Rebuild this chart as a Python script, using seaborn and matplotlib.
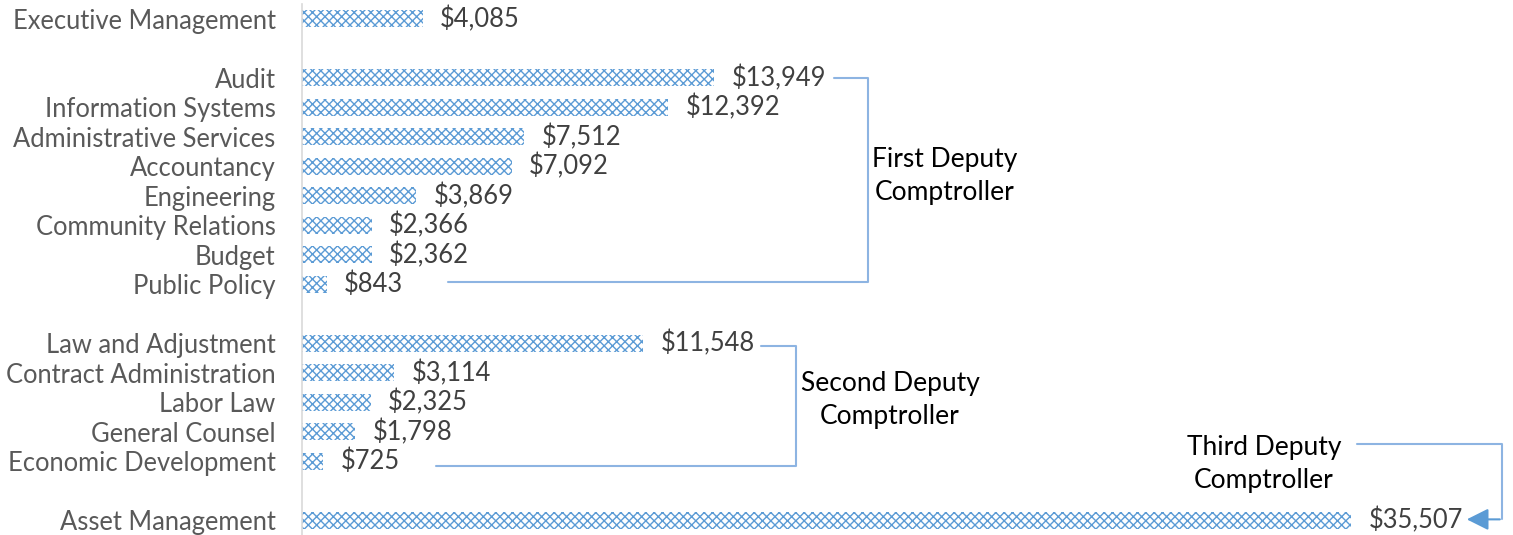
import matplotlib
matplotlib.use("Agg")
import matplotlib.pyplot as plt
import seaborn as sns
import pandas as pd

# ---- data ----
groups = [
    ["Executive Management"],
    ["Audit", "Information Systems", "Administrative Services", "Accountancy",
     "Engineering", "Community Relations", "Budget", "Public Policy"],
    ["Law and Adjustment", "Contract Administration", "Labor Law",
     "General Counsel", "Economic Development"],
    ["Asset Management"],
]
values = [
    [4085],
    [13949, 12392, 7512, 7092, 3869, 2366, 2362, 843],
    [11548, 3114, 2325, 1798, 725],
    [35507],
]
group_titles = ["First Deputy\nComptroller", "Second Deputy\nComptroller",
                "Third Deputy\nComptroller"]

# slot positions with a blank slot between groups
names, vals, pos = [], [], []
p = 0
for g, v in zip(groups, values):
    for n, x in zip(g, v):
        names.append(n); vals.append(x); pos.append(p); p += 1
    p += 1
df = pd.DataFrame({"name": names, "value": vals, "pos": pos})

sns.set_theme(style="white")
plt.rcParams['font.family'] = ['Lato', 'DejaVu Sans']
plt.rcParams['hatch.linewidth'] = 1.0

fig = plt.figure(figsize=(15.13, 5.35), dpi=100)
ax = fig.add_axes([302/1513, 0, 1 - 302/1513, 531/535])

blue = "#5B9BD5"
sns.barplot(data=df, x="value", y="pos", orient="h", native_scale=True,
            width=0.58, color="white", ax=ax)
for patch in ax.patches:
    patch.set_facecolor("white")
    patch.set_edgecolor(blue)
    patch.set_hatch("xxxx")
    patch.set_linewidth(0)

ax.set_xlim(0, (1513 - 302) / 0.029543)
ax.set_ylim(17.5, -0.5)
ax.set_yticks(df["pos"])
ax.set_yticklabels(df["name"], fontsize=18.4, color="#595959")
ax.set_xticks([])
ax.set_xlabel(""); ax.set_ylabel("")
ax.tick_params(axis="y", length=0, pad=19)
for s in ["top", "right", "bottom"]:
    ax.spines[s].set_visible(False)
ax.spines["left"].set_color("#D9D9D9")
ax.spines["left"].set_linewidth(1.2)

labels = [f"${v:,.0f}" for v in df["value"]]
ax.bar_label(ax.containers[0], labels=labels, padding=12.5, fontsize=18.4,
             color="#404040")

lc = "#8DB4E2"
lw = 1.5
tfs = 19
ls = 1.38
# First deputy bracket
ax.plot([18008, 19158, 19158, 4942], [2.0, 2.0, 8.92, 8.92], color=lc, lw=lw,
        clip_on=False)
ax.text(21765, 5.33, group_titles[0], ha="center", va="center", fontsize=tfs,
        color="black", linespacing=ls)
# Second deputy bracket
ax.plot([15536, 16721, 16721, 4536], [11.09, 11.09, 15.16, 15.16], color=lc,
        lw=lw, clip_on=False)
ax.text(19903, 12.93, group_titles[1], ha="center", va="center", fontsize=tfs,
        color="black", linespacing=ls)
# Third deputy arrow
ax.plot([35711, 40619, 40619], [14.42, 14.42, 16.97], color=lc, lw=lw,
        clip_on=False)
ax.annotate("", xy=(39333, 16.97), xytext=(40640, 16.97),
            arrowprops=dict(arrowstyle="-|>,head_length=0.6,head_width=0.3",
                            color=blue, lw=lw, mutation_scale=22),
            annotation_clip=False)
ax.text(32563, 15.1, group_titles[2], ha="center", va="center", fontsize=tfs,
        color="black", linespacing=ls)

fig.savefig("out.png", dpi=100)
